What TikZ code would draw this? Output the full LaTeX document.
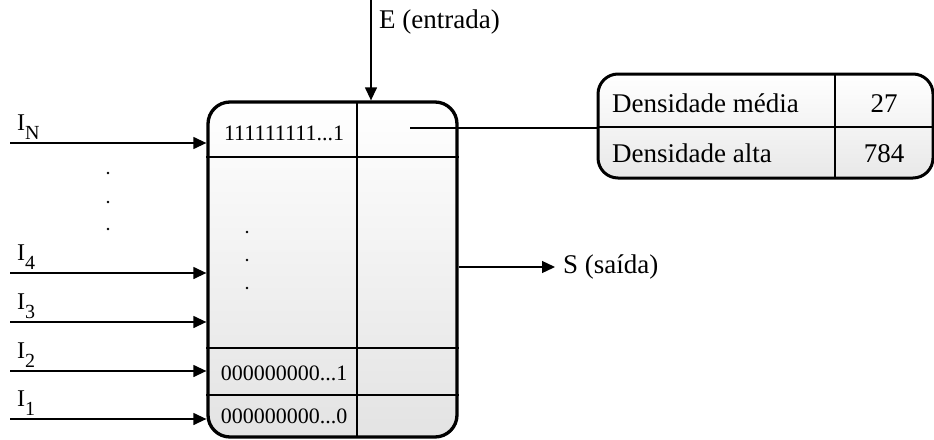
\documentclass[tikz,border=0pt]{standalone}
\usepackage{fontspec}
\setmainfont{Liberation Serif}
\usetikzlibrary{arrows.meta}
\begin{document}
\begin{tikzpicture}[x=1pt,y=-1pt,
  arr/.style={line width=1.3pt,-{Triangle[length=13pt,width=12pt]}},
  grid/.style={line width=2.6pt},
  tgrid/.style={line width=2pt},
  lbl/.style={font=\fontsize{27}{30}\selectfont,inner sep=0pt},
  cell/.style={font=\fontsize{22}{24}\selectfont,inner sep=0pt},
  dotm/.style={fill=black,draw=none}]
\useasboundingbox (0,0) rectangle (934,439);

% memory block
\node[draw,line width=3.3pt,rounded corners=22pt,minimum width=249pt,minimum height=335pt,
      top color=white,bottom color=black!11] (mem) at (332.5,269.5) {};
\draw[grid] (357,102) -- (357,437);
\draw[grid] (mem.west |- 0,157) -- (mem.east |- 0,157);
\draw[grid] (mem.west |- 0,348) -- (mem.east |- 0,348);
\draw[grid] (mem.west |- 0,395) -- (mem.east |- 0,395);
\node[cell,anchor=base] (rN) at (284,140) {111111111...1};
\node[cell,anchor=base] (r2) at (284,380) {000000000...1};
\node[cell,anchor=base] (r1) at (284,423) {000000000...0};
\foreach \yy in {232,260,288} \fill[dotm] (247,\yy) circle (1.4pt);

% density table
\node[draw,line width=3pt,rounded corners=20pt,minimum width=335pt,minimum height=104pt,
      top color=white,bottom color=black!9] (tab) at (765.5,126) {};
\draw[tgrid] (835,74) -- (835,178);
\draw[tgrid] (tab.west |- 0,127) -- (tab.east |- 0,127);
\node[lbl,anchor=base west] (dm) at (612,112) {Densidade média};
\node[lbl,anchor=base] (v1) at (884,112) {27};
\node[lbl,anchor=base west] (da) at (612,162) {Densidade alta};
\node[lbl,anchor=base] (v2) at (884,162) {784};

% link from the top row to the table
\coordinate (lk) at (410,128);
\draw[line width=1.3pt] (lk) -- (lk -| tab.west);

% input E
\coordinate (eTop) at (371,0);
\draw[arr] (eTop) -- (eTop |- mem.north);
\node[lbl,anchor=base west] (eL) at (379,28) {E (entrada)};

% output S
\coordinate (sEnd) at (555,267);
\draw[arr] (sEnd -| mem.east) -- (sEnd);
\node[lbl,anchor=west] (sL) at (563,267) {S (saída)};

% inputs I
\newcommand{\inlab}[1]{{\fontsize{24}{26}\selectfont I}\raisebox{-9pt}{\fontsize{20}{22}\selectfont #1}}
\foreach \nm/\yy/\sub in {iN/143/N, i4/273/4, i3/322/3, i2/371/2, i1/419/1}{
  \coordinate (\nm) at (10,\yy);
  \draw[arr] (\nm) -- (\nm -| mem.west);
  \node[inner sep=0pt,anchor=base west] (\nm l) at (17,\yy-13) {\inlab{\sub}};
}
\foreach \yy in {173,202,229} \fill[dotm] (108,\yy) circle (1.4pt);
\end{tikzpicture}
\end{document}
